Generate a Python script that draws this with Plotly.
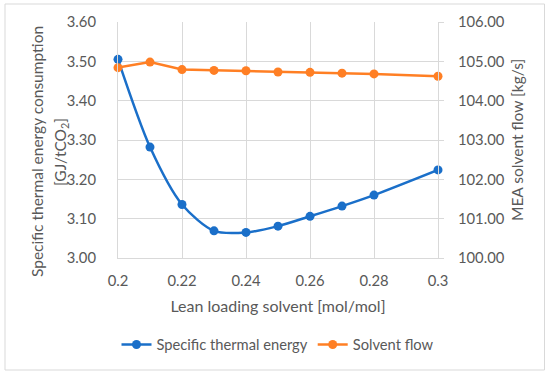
import plotly.graph_objects as go

lean_loading = [0.20, 0.21, 0.22, 0.23, 0.24, 0.25, 0.26, 0.27, 0.28, 0.30]
thermal_energy = [3.505, 3.282, 3.136, 3.069, 3.065, 3.081, 3.106, 3.132, 3.160, 3.224]
solvent_flow = [104.84, 104.98, 104.79, 104.77, 104.76, 104.73, 104.72, 104.70, 104.68, 104.62]

x_ticks = [0.2, 0.22, 0.24, 0.26, 0.28, 0.3]
x_tick_labels = ["0.2", "0.22", "0.24", "0.26", "0.28", "0.3"]
y1_ticks = [3.0, 3.1, 3.2, 3.3, 3.4, 3.5, 3.6]
y2_ticks = [100, 101, 102, 103, 104, 105, 106]

BLUE = "#1a6fc9"
ORANGE = "#ff7f24"
TXT = "#595959"
GRID = "#d9d9d9"
FONT = "Lato, Open Sans, sans-serif"

fig = go.Figure()
fig.add_trace(go.Scatter(
    x=lean_loading, y=thermal_energy, name="Specific thermal energy",
    mode="lines+markers", line=dict(color=BLUE, width=2.5, shape="spline", smoothing=0.8),
    marker=dict(color=BLUE, size=9), yaxis="y", cliponaxis=False))
fig.add_trace(go.Scatter(
    x=lean_loading, y=solvent_flow, name="Solvent flow",
    mode="lines+markers", line=dict(color=ORANGE, width=2.5),
    marker=dict(color=ORANGE, size=9), yaxis="y2", cliponaxis=False))

W, H = 550, 374
L, R, T, B = 118, 112, 22, 116
pw, ph = W - L - R, H - T - B

def px(x):
    return (x - L) / pw

def py(y):
    return (H - B - y) / ph

fig.update_layout(
    width=W, height=H,
    margin=dict(l=L, r=R, t=T, b=B),
    paper_bgcolor="white", plot_bgcolor="white",
    font=dict(family=FONT, color=TXT, size=13),
    showlegend=True,
    legend=dict(orientation="h", x=0.5, xanchor="center", y=py(345), yanchor="middle",
                font=dict(size=14.7, color=TXT), bgcolor="rgba(0,0,0,0)"),
    xaxis=dict(range=[0.2, 0.3], tickvals=x_ticks, ticktext=x_tick_labels,
               showgrid=True, gridcolor=GRID, gridwidth=1, zeroline=False,
               showline=True, linecolor=GRID, linewidth=1, ticks="",
               tickfont=dict(size=14.8, color=TXT), ticklabelstandoff=9,
               title=dict(text="Lean loading solvent [mol/mol]", font=dict(size=16, color=TXT), standoff=13)),
    yaxis=dict(range=[3.0, 3.6], tickvals=y1_ticks, tickformat=".2f",
               showgrid=True, gridcolor=GRID, gridwidth=1, zeroline=False,
               showline=True, linecolor=GRID, ticks="",
               tickfont=dict(size=14.8, color=TXT), ticklabelstandoff=18),
    yaxis2=dict(range=[100, 106], tickvals=y2_ticks, tickformat=".2f",
                overlaying="y", side="right", showgrid=False, zeroline=False,
                showline=True, linecolor=GRID, ticks="outside", ticklen=5, tickcolor=GRID,
                tickfont=dict(size=14.8, color=TXT), ticklabelstandoff=11),
    annotations=[
        dict(text="Specific thermal energy consumption", xref="paper", yref="paper",
             x=px(37), y=py(152), textangle=-90, showarrow=False,
             xanchor="center", yanchor="middle", font=dict(size=15.5, color=TXT)),
        dict(text="[GJ/tCO<sub>2</sub>]", xref="paper", yref="paper",
             x=px(61), y=py(152), textangle=-90, showarrow=False,
             xanchor="center", yanchor="middle", font=dict(size=15.5, color=TXT)),
        dict(text="MEA solvent flow [kg/s]", xref="paper", yref="paper",
             x=px(517), y=py(140), textangle=-90, showarrow=False,
             xanchor="center", yanchor="middle", font=dict(size=15.5, color=TXT)),
    ],
    shapes=[dict(type="rect", xref="paper", yref="paper",
                 x0=px(5), x1=px(544.5), y0=py(370), y1=py(4),
                 line=dict(color=GRID, width=1), fillcolor="rgba(0,0,0,0)", layer="below")],
)

fig.write_html("out.html", config={"displayModeBar": False},
               post_script="document.body.style.margin='0px';document.body.style.padding='0px';")
